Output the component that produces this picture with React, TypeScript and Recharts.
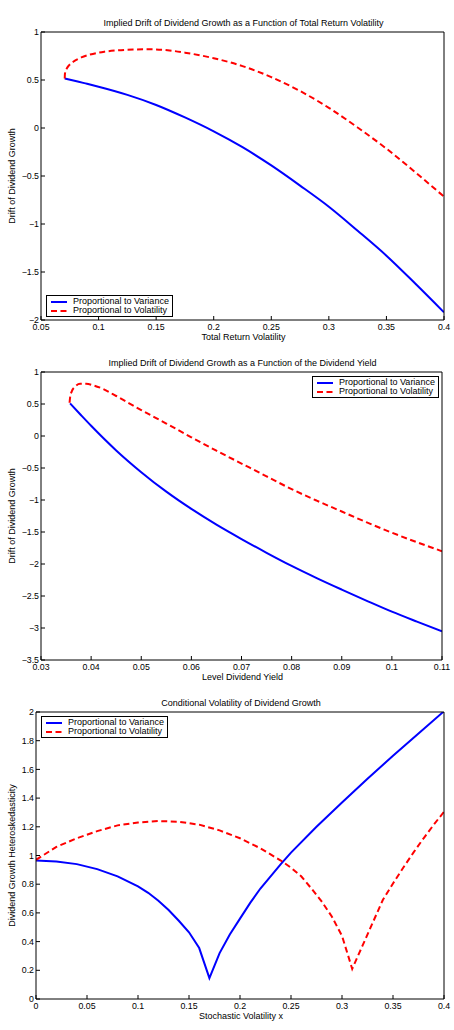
import React from 'react';
import { LineChart, Line, XAxis, YAxis, Legend, Label } from 'recharts';

// [x, y] samples for each panel
const driftVolVariance: number[][] = [
  [0.0706, 0.516], [0.08, 0.49], [0.09, 0.46], [0.1, 0.43], [0.125, 0.345], [0.15, 0.24],
  [0.175, 0.11], [0.2, -0.035], [0.225, -0.2], [0.25, -0.39], [0.275, -0.6], [0.3, -0.82],
  [0.325, -1.07], [0.35, -1.33], [0.375, -1.62], [0.4, -1.92],
];
const driftVolVolatility: number[][] = [
  [0.0706, 0.516], [0.0708, 0.565], [0.0722, 0.615], [0.0745, 0.655], [0.078, 0.69],
  [0.085, 0.735], [0.0926, 0.765], [0.105, 0.795], [0.1158, 0.808], [0.13, 0.817],
  [0.145, 0.82], [0.16, 0.81], [0.175, 0.785], [0.2, 0.727], [0.225, 0.645], [0.25, 0.53],
  [0.275, 0.385], [0.3, 0.21], [0.325, 0.005], [0.35, -0.215], [0.375, -0.46], [0.4, -0.715],
];

const driftYieldVariance: number[][] = [
  [0.0358, 0.51], [0.038, 0.325], [0.04, 0.16], [0.045, -0.225], [0.05, -0.565], [0.055, -0.87],
  [0.06, -1.14], [0.065, -1.385], [0.07, -1.61], [0.075, -1.825], [0.08, -2.03], [0.085, -2.22],
  [0.09, -2.4], [0.095, -2.575], [0.1, -2.745], [0.105, -2.9], [0.11, -3.05],
];
const driftYieldVolatility: number[][] = [
  [0.0357, 0.52], [0.0358, 0.6], [0.0361, 0.69], [0.0368, 0.77], [0.0378, 0.815], [0.039, 0.815],
  [0.0405, 0.79], [0.0424, 0.735], [0.045, 0.625], [0.0475, 0.515], [0.05, 0.405], [0.055, 0.195],
  [0.06, -0.02], [0.065, -0.23], [0.07, -0.43], [0.075, -0.63], [0.08, -0.83], [0.085, -1.01],
  [0.09, -1.18], [0.095, -1.35], [0.1, -1.51], [0.105, -1.66], [0.11, -1.8],
];

const condVolVariance: number[][] = [
  [0, 0.965], [0.02, 0.958], [0.04, 0.94], [0.06, 0.905], [0.08, 0.855], [0.1, 0.785],
  [0.11, 0.74], [0.12, 0.685], [0.13, 0.62], [0.14, 0.545], [0.15, 0.465], [0.16, 0.355],
  [0.17, 0.145], [0.18, 0.32], [0.19, 0.45], [0.2, 0.56], [0.21, 0.67], [0.22, 0.77],
  [0.23, 0.855], [0.24, 0.94], [0.25, 1.02], [0.275, 1.2], [0.3, 1.37], [0.325, 1.535],
  [0.35, 1.695], [0.375, 1.85], [0.4, 2.005],
];
const condVolVolatility: number[][] = [
  [0, 0.97], [0.02, 1.06], [0.04, 1.12], [0.06, 1.17], [0.08, 1.21], [0.1, 1.23], [0.12, 1.24],
  [0.14, 1.235], [0.16, 1.215], [0.18, 1.175], [0.2, 1.12], [0.22, 1.05], [0.24, 0.965],
  [0.25, 0.915], [0.26, 0.855], [0.27, 0.77], [0.28, 0.68], [0.29, 0.575], [0.3, 0.44],
  [0.31, 0.21], [0.32, 0.37], [0.33, 0.53], [0.34, 0.69], [0.35, 0.805], [0.36, 0.915],
  [0.37, 1.02], [0.38, 1.12], [0.39, 1.215], [0.4, 1.305],
];

const volTicks = [0.05, 0.1, 0.15, 0.2, 0.25, 0.3, 0.35, 0.4];
const yieldTicks = [0.03, 0.04, 0.05, 0.06, 0.07, 0.08, 0.09, 0.1, 0.11];
const stochTicks = [0, 0.05, 0.1, 0.15, 0.2, 0.25, 0.3, 0.35, 0.4];
const driftVolYTicks = [-2, -1.5, -1, -0.5, 0, 0.5, 1];
const driftYieldYTicks = [-3.5, -3, -2.5, -2, -1.5, -1, -0.5, 0, 0.5, 1];
const condVolYTicks = [0, 0.2, 0.4, 0.6, 0.8, 1, 1.2, 1.4, 1.6, 1.8, 2];

const seriesNames = ['Proportional to Variance', 'Proportional to Volatility'];

const FONT = '"Liberation Sans", Arial, Helvetica, sans-serif';
const BLUE = '#0000ff';
const RED = '#ff0000';
const DASH = '6 3.5';
const FS = 9;
const TICK_FS = 8.8;

const toPts = (rows: number[][]) => rows.map(([x, y]) => ({ x, y }));
const fmt = (v: number) => String(v).replace('-', '\u2212');

const LegendBox = () => (
  <div
    style={{
      border: '1px solid #000',
      background: '#fff',
      padding: '0.5px 3px 0.5px 4px',
      fontFamily: FONT,
      fontSize: 9,
      lineHeight: '9.5px',
      color: '#000',
      whiteSpace: 'nowrap',
    }}
  >
    {seriesNames.map((name, i) => (
      <div key={name} style={{ display: 'flex', alignItems: 'center', height: 9.5 }}>
        <svg width={16} height={9.5} style={{ display: 'block' }}>
          <line
            x1={0}
            x2={16}
            y1={5}
            y2={5}
            stroke={i === 0 ? BLUE : RED}
            strokeWidth={2}
            strokeDasharray={i === 0 ? undefined : DASH}
          />
        </svg>
        <span style={{ marginLeft: 6 }}>{name}</span>
      </div>
    ))}
  </div>
);

type PanelProps = {
  top: number;
  height: number;
  marginTop: number;
  marginRight: number;
  yWidth: number;
  xHeight: number;
  xDomain: number[];
  xTicks: number[];
  yDomain: number[];
  yTicks: number[];
  title: string;
  xLabel: string;
  yLabel: string;
  variance: number[][];
  volatility: number[][];
  curve: 'monotone' | 'linear';
  legendAt: { left: number; top: number };
};

function Panel(p: PanelProps) {
  const tickStyle = { fontSize: TICK_FS, fill: '#000', fontFamily: FONT };
  const axisLine = { stroke: '#000', strokeWidth: 1 };
  return (
    <div style={{ position: 'absolute', left: 0, top: p.top }}>
      <LineChart
        width={454}
        height={p.height}
        margin={{ top: p.marginTop, right: p.marginRight, bottom: 0, left: 0 }}
        style={{ fontFamily: FONT }}
      >
        <XAxis
          xAxisId="b"
          type="number"
          dataKey="x"
          domain={p.xDomain}
          ticks={p.xTicks}
          allowDataOverflow
          interval={0}
          height={p.xHeight}
          tickSize={-4}
          tickMargin={8}
          tick={tickStyle}
          tickFormatter={fmt}
          axisLine={axisLine}
          tickLine={{ stroke: '#000' }}
          label={
            <Label
              content={({ viewBox }: any) => (
                <text
                  x={viewBox.x + viewBox.width / 2 + 1}
                  y={viewBox.y + 20}
                  textAnchor="middle"
                  fontSize={FS}
                  fontFamily={FONT}
                  fill="#000"
                >
                  {p.xLabel}
                </text>
              )}
            />
          }
        />
        <XAxis
          xAxisId="t"
          orientation="top"
          type="number"
          domain={p.xDomain}
          ticks={p.xTicks}
          allowDataOverflow
          interval={0}
          height={1}
          tickSize={-4}
          tick={false}
          axisLine={axisLine}
          tickLine={{ stroke: '#000' }}
          label={
            <Label
              content={({ viewBox }: any) => (
                <text
                  x={viewBox.x + viewBox.width / 2 + 1}
                  y={viewBox.y + viewBox.height - 6.5}
                  textAnchor="middle"
                  fontSize={FS}
                  fontFamily={FONT}
                  fill="#000"
                >
                  {p.title}
                </text>
              )}
            />
          }
        />
        <YAxis
          yAxisId="l"
          type="number"
          domain={p.yDomain}
          ticks={p.yTicks}
          allowDataOverflow
          interval={0}
          width={p.yWidth}
          tickSize={-4}
          tickMargin={6}
          tick={tickStyle}
          tickFormatter={fmt}
          axisLine={axisLine}
          tickLine={{ stroke: '#000' }}
          label={
            <Label
              content={({ viewBox }: any) => {
                const cy = viewBox.y + viewBox.height / 2;
                return (
                  <text
                    x={15}
                    y={cy}
                    transform={`rotate(-90, 15, ${cy})`}
                    textAnchor="middle"
                    fontSize={FS}
                    fontFamily={FONT}
                    fill="#000"
                  >
                    {p.yLabel}
                  </text>
                );
              }}
            />
          }
        />
        <YAxis
          yAxisId="r"
          orientation="right"
          type="number"
          domain={p.yDomain}
          ticks={p.yTicks}
          allowDataOverflow
          interval={0}
          width={1}
          tickSize={-4}
          tick={false}
          axisLine={axisLine}
          tickLine={{ stroke: '#000' }}
        />
        <Line
          xAxisId="b"
          yAxisId="l"
          data={toPts(p.variance)}
          dataKey="y"
          name={seriesNames[0]}
          type={p.curve}
          stroke={BLUE}
          strokeWidth={2}
          dot={false}
          activeDot={false}
          isAnimationActive={false}
        />
        <Line
          xAxisId="b"
          yAxisId="l"
          data={toPts(p.volatility)}
          dataKey="y"
          name={seriesNames[1]}
          type={p.curve}
          stroke={RED}
          strokeWidth={2}
          strokeDasharray={DASH}
          dot={false}
          activeDot={false}
          isAnimationActive={false}
        />
        <Legend
          layout="horizontal"
          verticalAlign="middle"
          align="center"
          content={() => <LegendBox />}
          wrapperStyle={{ left: p.legendAt.left, top: p.legendAt.top, width: 'auto', height: 'auto' }}
        />
      </LineChart>
    </div>
  );
}

export default function App() {
  return (
    <div style={{ position: 'absolute', left: 0, top: 0, width: 454, height: 1030, background: '#fff' }}>
      <Panel
        top={0}
        height={344}
        marginTop={31}
        marginRight={9}
        yWidth={41}
        xHeight={24}
        xDomain={[0.05, 0.4]}
        xTicks={volTicks}
        yDomain={[-2, 1]}
        yTicks={driftVolYTicks}
        title="Implied Drift of Dividend Growth as a Function of Total Return Volatility"
        xLabel="Total Return Volatility"
        yLabel="Drift of Dividend Growth"
        variance={driftVolVariance}
        volatility={driftVolVolatility}
        curve="monotone"
        legendAt={{ left: 46, top: 295 }}
      />
      <Panel
        top={344}
        height={344}
        marginTop={27}
        marginRight={11}
        yWidth={41}
        xHeight={28}
        xDomain={[0.03, 0.11]}
        xTicks={yieldTicks}
        yDomain={[-3.5, 1]}
        yTicks={driftYieldYTicks}
        title="Implied Drift of Dividend Growth as a Function of the Dividend Yield"
        xLabel="Level Dividend Yield"
        yLabel="Drift of Dividend Growth"
        variance={driftYieldVariance}
        volatility={driftYieldVolatility}
        curve="monotone"
        legendAt={{ left: 312, top: 32 }}
      />
      <Panel
        top={688}
        height={342}
        marginTop={23}
        marginRight={9}
        yWidth={36}
        xHeight={31}
        xDomain={[0, 0.4]}
        xTicks={stochTicks}
        yDomain={[0, 2]}
        yTicks={condVolYTicks}
        title="Conditional Volatility of Dividend Growth"
        xLabel="Stochastic Volatility x"
        yLabel="Dividend Growth Heteroskedasticity"
        variance={condVolVariance}
        volatility={condVolVolatility}
        curve="linear"
        legendAt={{ left: 41, top: 28 }}
      />
    </div>
  );
}
